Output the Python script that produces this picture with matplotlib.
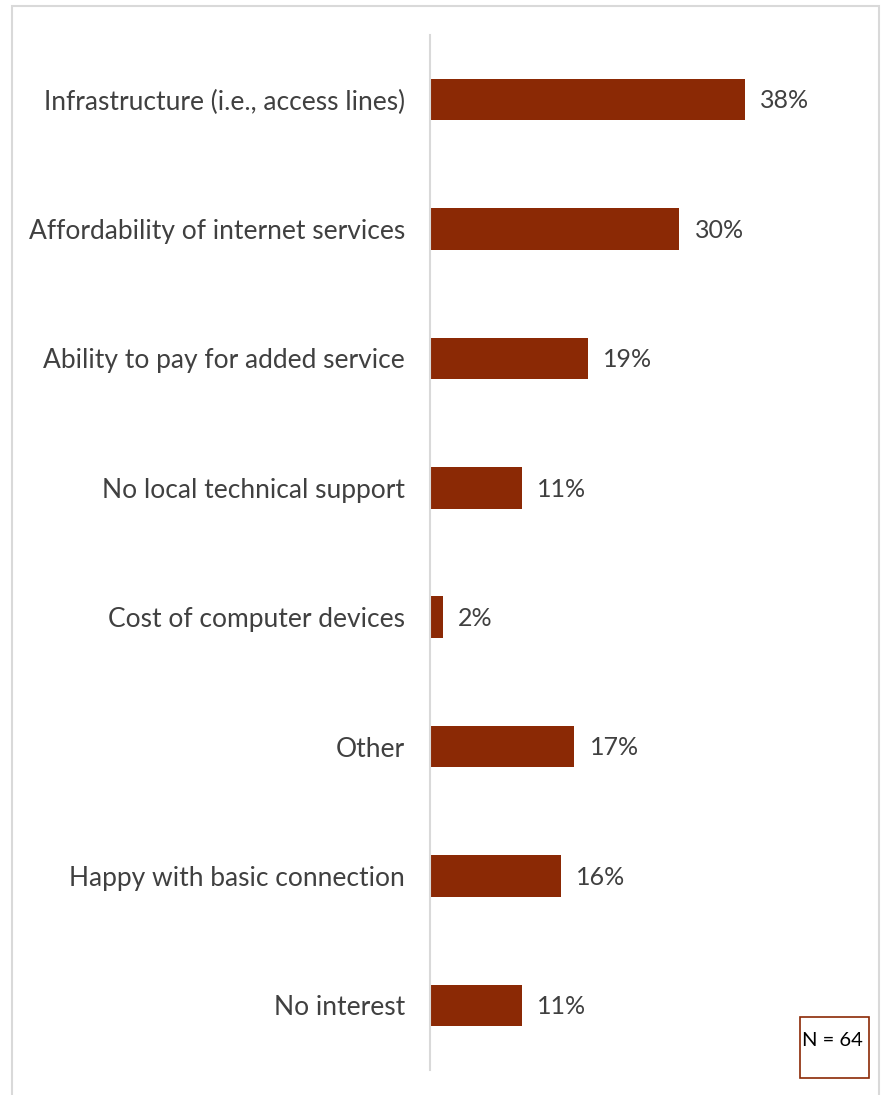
import matplotlib.pyplot as plt
from matplotlib.patches import Rectangle

categories = ['Infrastructure (i.e., access lines)', 'Affordability of internet services',
              'Ability to pay for added service', 'No local technical support',
              'Cost of computer devices', 'Other', 'Happy with basic connection', 'No interest']
counts = [24, 19, 12, 7, 1, 11, 10, 7]
n_total = 64
values = [c / n_total * 100 for c in counts]

W, H = 883, 1095
fig = plt.figure(figsize=(W / 100, H / 100), dpi=100)
plt.rcParams['font.family'] = ['Lato', 'DejaVu Sans']

# axes placed in pixel coordinates
left, right, top, bottom = 430, 870, 35, 1070
ax = fig.add_axes([left / W, 1 - bottom / H, (right - left) / W, (bottom - top) / H])

pos = range(len(categories))
ax.barh(pos, values, height=0.32, color='#8B2905')
ax.set_ylim(len(categories) - 0.5, -0.5)
ax.set_xlim(0, (right - left) / 8.4)

for p, v in zip(pos, values):
    ax.text(v + 1.8, p + 0.01, f'{v:.0f}%', va='center', ha='left', fontsize=18, color='#404040')

ax.set_yticks(list(pos))
ax.set_yticklabels(categories, fontsize=19, color='#404040', va='center_baseline')
ax.tick_params(axis='y', length=0, pad=18)
ax.set_xticks([])
for s in ['top', 'right', 'bottom']:
    ax.spines[s].set_visible(False)
ax.spines['left'].set_color('#D9D9D9')
ax.spines['left'].set_linewidth(1.5)

# outer chart border
fig.patches.append(Rectangle((12 / W, -0.01), (879 - 12) / W, 1 - 6 / H + 0.01,
                             transform=fig.transFigure, fill=False,
                             edgecolor='#D9D9D9', linewidth=1.5))

# N box
fig.patches.append(Rectangle((800 / W, 1 - 1078 / H), 69 / W, 61 / H,
                             transform=fig.transFigure, fill=False,
                             edgecolor='#8B2905', linewidth=1.2))
fig.text(802 / W, 1 - 1041 / H, f'N = {n_total}', fontsize=14.5, color='black',
         va='center', ha='left')

fig.savefig('out.png', dpi=100)
